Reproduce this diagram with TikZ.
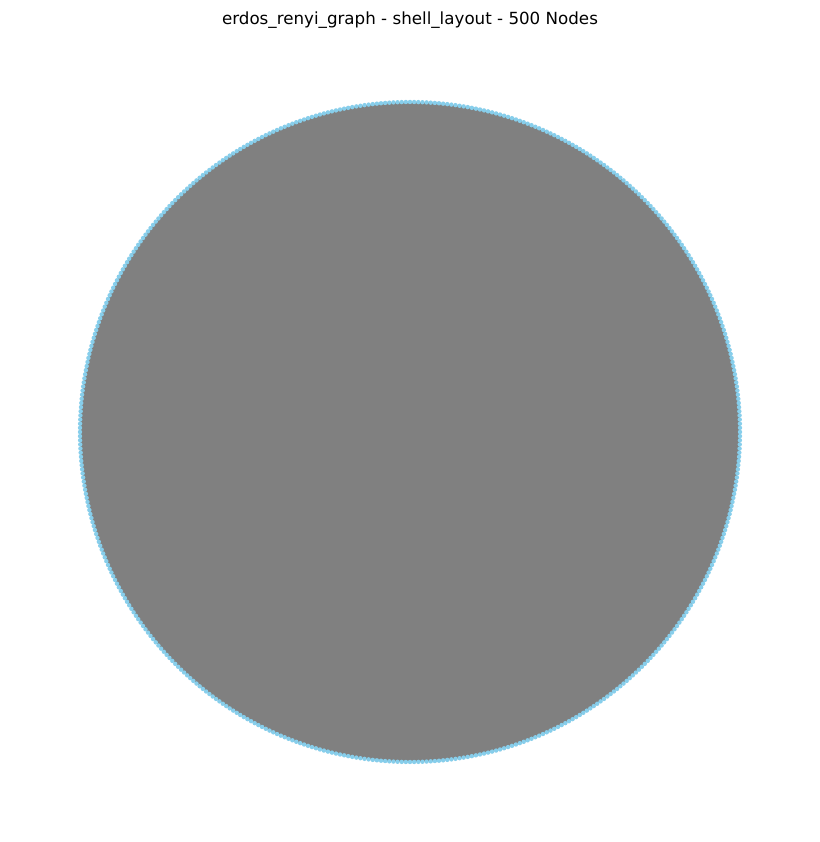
\documentclass[tikz,border=0pt]{standalone}
\usepackage{fontspec}
\setmainfont{DejaVu Sans}
\usetikzlibrary{calc}
\definecolor{skyblue}{HTML}{87CEEB}
\definecolor{edgegray}{HTML}{808080}
\begin{document}
\begin{tikzpicture}[x=1pt,y=1pt,
  vtx/.style={circle,fill=skyblue,draw=none,inner sep=0pt,minimum size=4.4pt},
  edgefill/.style={fill=edgegray,draw=none}]
\useasboundingbox (0,0) rectangle (819,842);
\fill[white] (0,0) rectangle (819,842);
\coordinate (c) at (410,410);
\fill[edgefill] (c) circle (330);
\foreach \i in {0,...,499}{
  \pgfmathsetmacro{\ang}{0.72*\i}
  \node[vtx] (v\i) at ($(c)+(\ang:330)$) {};
}
\node[anchor=base,font=\fontsize{16.7}{20}\selectfont] (title) at (410,817) {erdos\_renyi\_graph - shell\_layout - 500 Nodes};
\end{tikzpicture}
\end{document}
